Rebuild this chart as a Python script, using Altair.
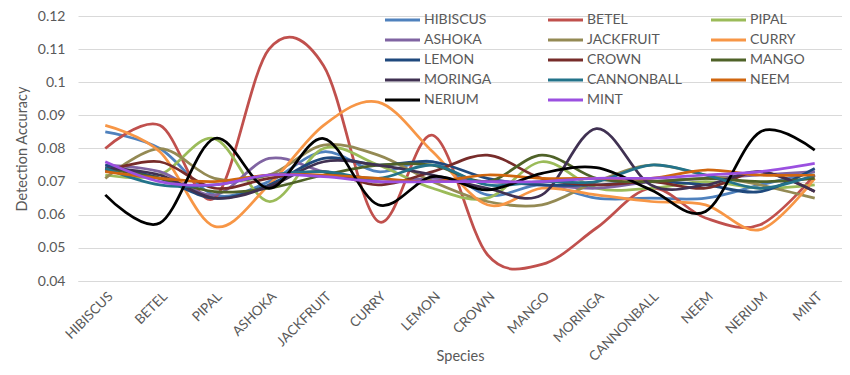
import altair as alt
import pandas as pd

species = ["HIBISCUS", "BETEL", "PIPAL", "ASHOKA", "JACKFRUIT", "CURRY", "LEMON",
           "CROWN", "MANGO", "MORINGA", "CANNONBALL", "NEEM", "NERIUM", "MINT"]

hibiscus   = [0.085, 0.080, 0.066, 0.070, 0.079, 0.073, 0.076, 0.066, 0.069, 0.065, 0.065, 0.065, 0.069, 0.073]
betel      = [0.080, 0.087, 0.065, 0.110, 0.105, 0.058, 0.084, 0.048, 0.045, 0.056, 0.068, 0.059, 0.057, 0.072]
pipal      = [0.072, 0.072, 0.083, 0.064, 0.080, 0.075, 0.068, 0.065, 0.076, 0.068, 0.068, 0.070, 0.068, 0.069]
ashoka     = [0.075, 0.073, 0.066, 0.077, 0.073, 0.070, 0.071, 0.070, 0.069, 0.068, 0.070, 0.071, 0.072, 0.073]
jackfruit  = [0.071, 0.080, 0.071, 0.072, 0.081, 0.078, 0.070, 0.064, 0.063, 0.070, 0.075, 0.072, 0.069, 0.065]
curry      = [0.087, 0.079, 0.0565, 0.069, 0.087, 0.094, 0.079, 0.063, 0.068, 0.066, 0.064, 0.063, 0.0555, 0.071]
lemon      = [0.075, 0.071, 0.065, 0.069, 0.077, 0.075, 0.076, 0.071, 0.069, 0.069, 0.070, 0.069, 0.067, 0.074]
crown      = [0.073, 0.076, 0.068, 0.071, 0.073, 0.069, 0.073, 0.078, 0.071, 0.069, 0.070, 0.068, 0.073, 0.067]
mango      = [0.074, 0.071, 0.067, 0.068, 0.072, 0.075, 0.075, 0.070, 0.078, 0.071, 0.070, 0.071, 0.070, 0.071]
moringa    = [0.074, 0.072, 0.065, 0.0685, 0.076, 0.075, 0.072, 0.068, 0.066, 0.086, 0.069, 0.069, 0.073, 0.067]
cannonball = [0.074, 0.069, 0.069, 0.072, 0.073, 0.071, 0.075, 0.069, 0.070, 0.070, 0.075, 0.072, 0.068, 0.072]
neem       = [0.073, 0.071, 0.070, 0.072, 0.072, 0.071, 0.070, 0.072, 0.071, 0.071, 0.071, 0.0735, 0.072, 0.072]
nerium     = [0.066, 0.0575, 0.083, 0.068, 0.083, 0.063, 0.0715, 0.0675, 0.0725, 0.0742, 0.0675, 0.061, 0.085, 0.0795]
mint       = [0.076, 0.070, 0.069, 0.072, 0.0715, 0.070, 0.070, 0.070, 0.070, 0.071, 0.071, 0.072, 0.073, 0.0755]

series_values = [hibiscus, betel, pipal, ashoka, jackfruit, curry, lemon,
                 crown, mango, moringa, cannonball, neem, nerium, mint]

colors = ["#4F81BD", "#C0504D", "#9BBB59", "#8064A2", "#948A54", "#F79646", "#1F497D",
          "#772C2A", "#4F6228", "#403152", "#23738A", "#D0660F", "#000000", "#9B50E0"]

# legend fills column by column; this order reads row by row as in the reference
legend_order = ["HIBISCUS", "ASHOKA", "LEMON", "MORINGA", "NERIUM",
                "BETEL", "JACKFRUIT", "CROWN", "CANNONBALL", "MINT",
                "PIPAL", "CURRY", "MANGO", "NEEM"]

y_ticks = [0.04, 0.05, 0.06, 0.07, 0.08, 0.09, 0.10, 0.11, 0.12]

rows = []
for si, (name, vals) in enumerate(zip(species, series_values)):
    for ci, (cat, v) in enumerate(zip(species, vals)):
        rows.append({"Series": name, "Species": cat, "Accuracy": v, "s": si})
df = pd.DataFrame(rows)

FONT = "Lato"
GREY = "#595959"

chart = alt.Chart(df).mark_line(interpolate="cardinal", strokeWidth=2.75).encode(
    x=alt.X("Species:N", sort=species,
            scale=alt.Scale(type="point", padding=0.5),
            axis=alt.Axis(title="Species", labelAngle=-45, ticks=False, labelPadding=8,
                          domainColor="#D9D9D9", labelFontSize=13.5, labelColor=GREY,
                          titleFontSize=14.5, titleColor=GREY, titleFontWeight="normal",
                          titleY=68, titleBaseline="top", grid=False)),
    y=alt.Y("Accuracy:Q",
            scale=alt.Scale(domain=[0.04, 0.12], nice=False, zero=False),
            axis=alt.Axis(title="Detection Accuracy", values=y_ticks, format="~g",
                          ticks=False, domain=False, labelPadding=13, labelFontSize=14,
                          labelColor=GREY, gridColor="#D9D9D9", titleFontSize=14.5,
                          titleColor=GREY, titleFontWeight="normal", titlePadding=8)),
    color=alt.Color("Series:N", sort=species,
                    scale=alt.Scale(domain=species, range=colors),
                    legend=alt.Legend(title=None, orient="none", legendX=305, legendY=-3,
                                      values=legend_order,
                                      columns=3, symbolType="M-1,0H6", symbolSize=100,
                                      symbolStrokeWidth=3, labelFontSize=14, labelColor=GREY,
                                      labelOffset=27, columnPadding=23, rowPadding=6,
                                      gridAlign="all", labelLimit=200)),
    order=alt.Order("s:Q"),
).properties(
    width=764, height=265,
    autosize=alt.AutoSizeParams(type="none"),
    padding={"left": 70, "top": 8, "right": 0, "bottom": 86},
).configure(font=FONT).configure_view(stroke=None)

chart.save("out.html", embed_options={"renderer": "svg", "actions": False})
